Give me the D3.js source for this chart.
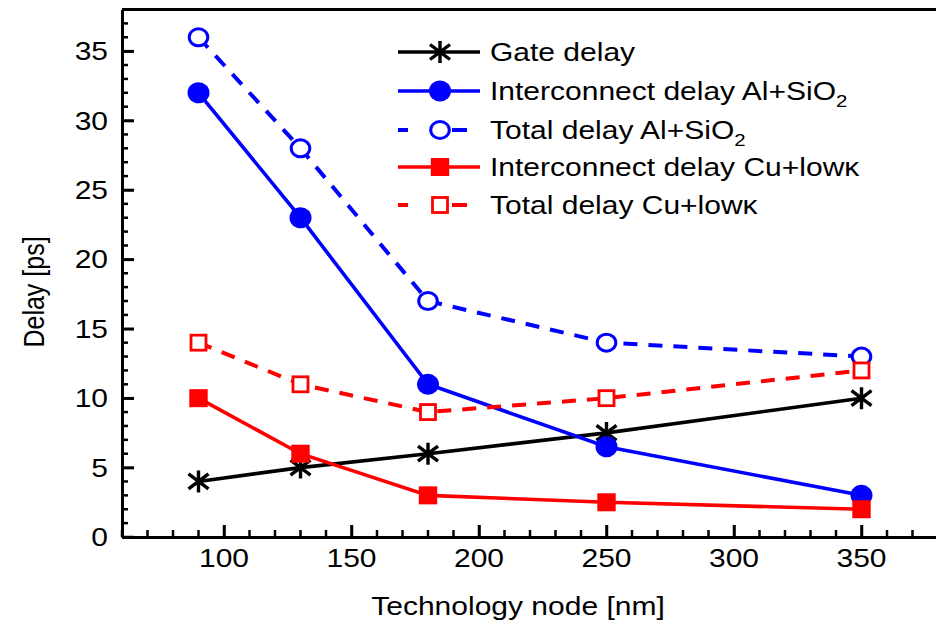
<!DOCTYPE html>
<html>
<head>
<meta charset="utf-8">
<script src="https://cdn.jsdelivr.net/npm/d3@7"></script>
<style>
  html, body { margin: 0; padding: 0; background: #fff; }
  svg { display: block; }
  text { font-family: "Liberation Sans", Arial, sans-serif; fill: #000; }
</style>
</head>
<body>
<svg id="chart" width="936" height="625"></svg>
<script>
// ---- data ----
const nodes = [90, 130, 180, 250, 350];
const gateDelay = [4, 5, 6, 7.5, 10];
const interAl = [32, 23, 11, 6.5, 3];
const totalAl = [36, 28, 17, 14, 13];
const interCu = [10, 6, 3, 2.5, 2];
const totalCu = [14, 11, 9, 10, 12];
const xTicks = [100, 150, 200, 250, 300, 350];
const yTicks = [0, 5, 10, 15, 20, 25, 30, 35];
const seriesNames = ["Gate delay", "Interconnect delay Al+SiO", "Total delay Al+SiO", "Interconnect delay Cu+low\u03BA", "Total delay Cu+low\u03BA"];

const series = [
  { name: seriesNames[0], values: gateDelay, color: "#000000", dashed: false, marker: "star" },
  { name: seriesNames[1], values: interAl, color: "#0000FF", dashed: false, marker: "circleFill", sub: "2" },
  { name: seriesNames[2], values: totalAl, color: "#0000FF", dashed: true, marker: "circleOpen", sub: "2" },
  { name: seriesNames[3], values: interCu, color: "#FF0000", dashed: false, marker: "squareFill" },
  { name: seriesNames[4], values: totalCu, color: "#FF0000", dashed: true, marker: "squareOpen" }
];

const svg = d3.select("#chart");
const SX = 1.2; // horizontal text stretch
const FS = 25;

const x = d3.scaleLinear().domain([60, 380]).range([122, 938]);
const y = d3.scaleLinear().domain([0, 38]).range([537, 9.5]);

// ---- frame ----
svg.append("line").attr("x1", x(60)).attr("x2", 940).attr("y1", y(38)).attr("y2", y(38))
  .attr("stroke", "#000").attr("stroke-width", 3);

// minor ticks
const gx = svg.append("g");
d3.range(60, 381, 10).forEach(v => {
  const major = v % 50 === 0;
  gx.append("line").attr("x1", x(v)).attr("x2", x(v))
    .attr("y1", y(0)).attr("y2", y(0) - (major ? 12 : 7))
    .attr("stroke", "#000").attr("stroke-width", 2.5);
});
d3.range(0, 39, 1).forEach(v => {
  const major = v % 5 === 0;
  gx.append("line").attr("x1", x(60)).attr("x2", x(60) + (major ? 12 : 6))
    .attr("y1", y(v)).attr("y2", y(v))
    .attr("stroke", "#000").attr("stroke-width", 2.5);
});

// axes lines via d3 axes
const xAxis = d3.axisBottom(x).tickValues(xTicks).tickSizeInner(-12).tickSizeOuter(0).tickFormat("");
const yAxis = d3.axisLeft(y).tickValues(yTicks).tickSizeInner(-12).tickSizeOuter(0).tickFormat("");
const xg = svg.append("g").attr("transform", `translate(0,${y(0)})`).call(xAxis);
const yg = svg.append("g").attr("transform", `translate(${x(60)},0)`).call(yAxis);
[xg, yg].forEach(g => {
  g.select(".domain").attr("stroke", "#000").attr("stroke-width", 3);
  g.selectAll(".tick line").attr("stroke", "#000").attr("stroke-width", 2.5);
});

// tick labels
xTicks.forEach(v => {
  svg.append("text").attr("transform", `translate(${x(v)},567) scale(${SX},1)`)
    .attr("text-anchor", "middle").attr("font-size", FS).text(v);
});
yTicks.forEach(v => {
  svg.append("text").attr("transform", `translate(108,${y(v) + 9}) scale(${SX},1)`)
    .attr("text-anchor", "end").attr("font-size", FS).text(v);
});

// axis titles
svg.append("text").attr("transform", `translate(518,615) scale(${SX},1)`)
  .attr("text-anchor", "middle").attr("font-size", FS).text("Technology node [nm]");
svg.append("text").attr("transform", `translate(44,292) scale(${SX},1) rotate(-90)`)
  .attr("text-anchor", "middle").attr("font-size", FS).text("Delay [ps]");

// ---- markers ----
function drawMarker(g, type, color, cx, cy) {
  if (type === "star") {
    const r = 10;
    const p = d3.path();
    p.moveTo(cx, cy - 11); p.lineTo(cx, cy + 11);
    p.moveTo(cx - r, cy - r * 0.75); p.lineTo(cx + r, cy + r * 0.75);
    p.moveTo(cx - r, cy + r * 0.75); p.lineTo(cx + r, cy - r * 0.75);
    g.append("path").attr("d", p.toString()).attr("stroke", color).attr("stroke-width", 3.4).attr("fill", "none");
  } else if (type === "circleFill") {
    g.append("ellipse").attr("cx", cx).attr("cy", cy).attr("rx", 11).attr("ry", 10.5).attr("fill", color);
  } else if (type === "circleOpen") {
    g.append("ellipse").attr("cx", cx).attr("cy", cy).attr("rx", 9.3).attr("ry", 8.5)
      .attr("fill", "#fff").attr("stroke", color).attr("stroke-width", 3);
  } else if (type === "squareFill") {
    g.append("rect").attr("x", cx - 9.2).attr("y", cy - 9).attr("width", 18.4).attr("height", 18).attr("fill", color);
  } else if (type === "squareOpen") {
    g.append("rect").attr("x", cx - 7.5).attr("y", cy - 7.5).attr("width", 15).attr("height", 15)
      .attr("fill", "#fff").attr("stroke", color).attr("stroke-width", 2.8);
  }
}

// ---- series ----
const line = d3.line().x(d => x(d[0])).y(d => y(d[1]));
series.forEach(s => {
  const g = svg.append("g");
  const pts = nodes.map((n, i) => [n, s.values[i]]);
  g.append("path").attr("d", line(pts)).attr("fill", "none")
    .attr("stroke", s.color).attr("stroke-width", s.dashed ? 4 : 3.6)
    .attr("stroke-dasharray", s.dashed ? "14,11" : null);
  pts.forEach(p => drawMarker(g, s.marker, s.color, x(p[0]), y(p[1])));
});

// ---- legend ----
const legendY = [52, 91, 130, 167, 205];
series.forEach((s, i) => {
  const g = svg.append("g");
  const ly = legendY[i];
  if (s.dashed) {
    g.append("line").attr("x1", 398).attr("x2", 408).attr("y1", ly).attr("y2", ly)
      .attr("stroke", s.color).attr("stroke-width", 4);
    g.append("line").attr("x1", 452).attr("x2", 467).attr("y1", ly).attr("y2", ly)
      .attr("stroke", s.color).attr("stroke-width", 4);
  } else {
    g.append("line").attr("x1", 398).attr("x2", 480).attr("y1", ly).attr("y2", ly)
      .attr("stroke", s.color).attr("stroke-width", 3.6);
  }
  drawMarker(g, s.marker, s.color, 440, ly);
  const t = g.append("text").attr("transform", `translate(490,${ly + 9}) scale(${SX},1)`)
    .attr("font-size", FS).text(s.name);
  if (s.sub) {
    t.append("tspan").attr("font-size", 17).attr("dy", 7).text(s.sub);
  }
});
</script>
</body>
</html>
